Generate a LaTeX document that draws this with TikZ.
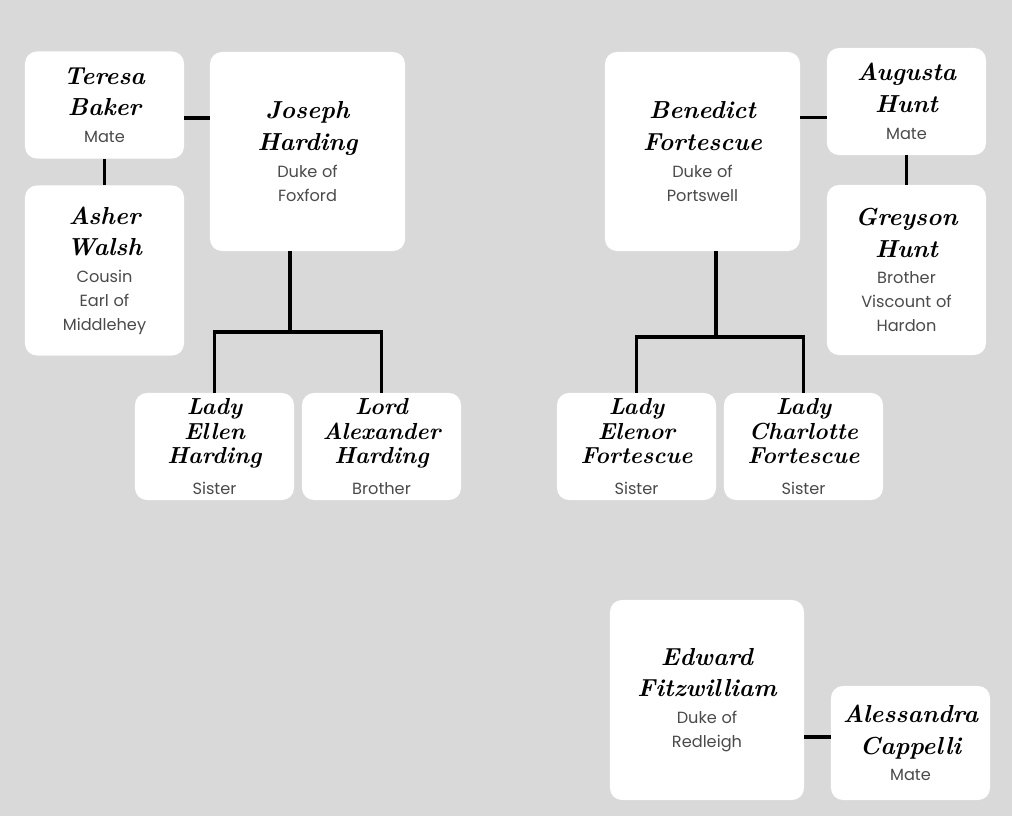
\documentclass[tikz,border=0pt]{standalone}
\usepackage{fontspec}
\usepackage{xcolor}
\usepackage{tikz}
\newfontfamily\subfam{Poppins}
\definecolor{bggray}{HTML}{D9D9D9}
\definecolor{subgray}{HTML}{4A4A4A}
\newcommand{\nm}[1]{{\fontsize{17.5}{22.5}\selectfont\bfseries\itshape #1\par}}
\newcommand{\kn}[1]{{\fontsize{16.5}{17.5}\selectfont\bfseries\itshape #1\par}}
\newcommand{\rl}[1]{{\vspace{2pt}\subfam\fontsize{11.5}{17}\selectfont\color{subgray}#1\par}}
\newcommand{\kr}[1]{{\vspace{5pt}\subfam\fontsize{11.5}{17}\selectfont\color{subgray}#1\par}}

\begin{document}
\begin{tikzpicture}[x=0.025cm, y=-0.025cm,
    box/.style={fill=white, rounded corners=0.3cm, inner sep=0pt, text width=3.8cm, align=center},
    small/.style={box, minimum width=3.975cm, minimum height=2.675cm},
    tall/.style={box, minimum width=3.975cm, minimum height=4.25cm},
    big/.style={box, minimum width=4.875cm, minimum height=4.975cm},
    link/.style={draw=black, line width=2.8pt}]

      \fill[bggray] (0,0) rectangle (1012,816);
      \useasboundingbox (0,0) rectangle (1012,816);

      % Harding family
      \node[small] (tb) at (104.5,105) {\nm{Teresa\\Baker}\rl{Mate}};
      \node[tall] (aw) at (104.5,270.5) {\nm{Asher\\Walsh}\rl{Cousin\\Earl of\\Middlehey}};
      \node[big] (jh) at (307.5,151.5) {\nm{Joseph\\Harding}\rl{Duke of\\Foxford}};
      \node[small] (leh) at (214.5,446.5) {\kn{Lady\\Ellen\\Harding}\kr{Sister}};
      \node[small] (lah) at (381.5,446.5) {\kn{Lord\\Alexander\\Harding}\kr{Brother}};

      \draw[link] ([yshift=-0.33cm]tb.east) -- ([yshift=-0.33cm]tb.east -| jh.west);
      \draw[link] (tb.south) -- (aw.north);
      \coordinate (jhbar) at (290,332);
      \draw[link] (jh.south -| jhbar) -- (jhbar);
      \draw[link] (leh.north) |- (jhbar) -| (lah.north);

      % Fortescue family
      \node[big] (bf) at (702.5,151.5) {\nm{Benedict\\Fortescue}\rl{Duke of\\Portswell}};
      \node[small] (ah) at (906.5,101.5) {\nm{Augusta\\Hunt}\rl{Mate}};
      \node[tall] (gh) at (906.5,270) {\nm{Greyson\\Hunt}\rl{Brother\\Viscount of\\Hardon}};
      \node[small] (lef) at (636.5,446.5) {\kn{Lady\\Elenor\\Fortescue}\kr{Sister}};
      \node[small] (lcf) at (803.5,446.5) {\kn{Lady\\Charlotte\\Fortescue}\kr{Sister}};

      \draw[link] ([yshift=-0.4cm]ah.west) -- ([yshift=-0.4cm]ah.west -| bf.east);
      \draw[link] (ah.south) -- (gh.north);
      \coordinate (bfbar) at (716,337);
      \draw[link] (bf.south -| bfbar) -- (bfbar);
      \draw[link] (lef.north) |- (bfbar) -| (lcf.north);

      % Fitzwilliam
      \node[box, minimum width=4.85cm, minimum height=5cm] (ef) at (707,700) {\nm{Edward\\Fitzwilliam}\rl{Duke of\\Redleigh}};
      \node[box, minimum width=3.975cm, minimum height=2.85cm] (ac) at (910.5,743) {\nm{Alessandra\\Cappelli}\rl{Mate}};

      \draw[link] ([yshift=0.15cm]ac.west) -- ([yshift=0.15cm]ac.west -| ef.east);
    \end{tikzpicture}
\end{document}
